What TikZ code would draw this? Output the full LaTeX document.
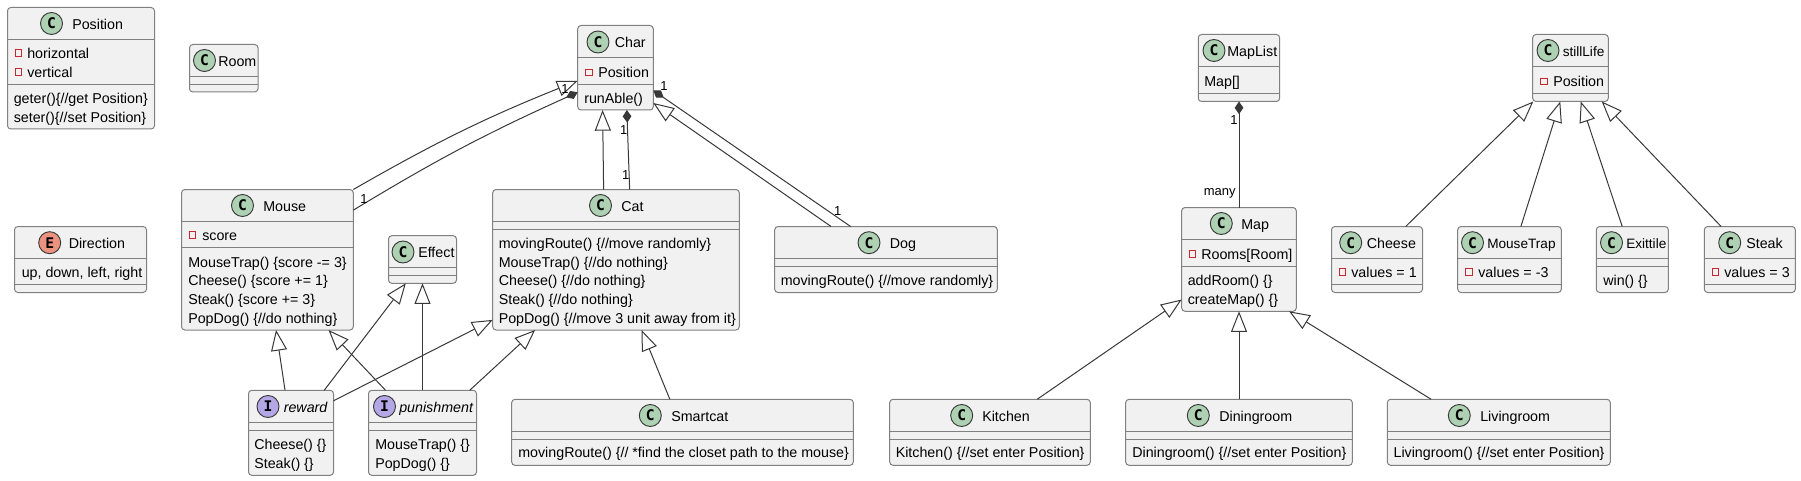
\documentclass[tikz,border=0pt]{standalone}
\usepackage{fontspec}
\setmainfont{Liberation Sans}
\newfontfamily\badgefont{DejaVu Sans Mono}
\usetikzlibrary{arrows.meta}
\definecolor{boxfill}{HTML}{F1F1F1}
\definecolor{boxline}{HTML}{808080}
\definecolor{edgeline}{HTML}{383838}
\definecolor{classbadge}{HTML}{ADD1B2}
\definecolor{enumbadge}{HTML}{EB937F}
\definecolor{ifacebadge}{HTML}{B4A7E5}
\definecolor{privmark}{HTML}{C82930}
\tikzset{
  classbox/.style={draw=boxline,fill=boxfill,line width=0.75pt,rounded corners=2.5pt,inner sep=0pt,outer sep=0pt},
  sepline/.style={draw=boxline,line width=0.75pt},
  badge/.style={circle,draw=edgeline,line width=0.7pt,minimum size=16.5pt,inner sep=0pt,font=\badgefont\bfseries\fontsize{11}{11}\selectfont},
  txt/.style={anchor=west,inner sep=0pt,yshift=-1pt,text height=8pt,text depth=2.2pt,font=\fontsize{10.7}{12}\selectfont},
  tighttxt/.style={txt,font=\fontsize{10.2}{12}\selectfont},
  ital/.style={txt,font=\fontsize{10.7}{12}\selectfont\itshape},
  mult/.style={inner sep=0pt,yshift=-1pt,font=\fontsize{9.75}{11}\selectfont},
  privbox/.style={draw=privmark,line width=0.6pt,minimum size=4.8pt,inner sep=0pt},
  edge/.style={draw=edgeline,line width=0.75pt},
  extends/.style={edge,-{Triangle[open,length=15.5pt,width=12pt,fill=white]}},
  owns/.style={edge,-{Diamond[length=9.5pt,width=6.5pt,fill=edgeline]}}
}
\begin{document}
\begin{tikzpicture}[x=0.75pt,y=-0.75pt]
  \useasboundingbox (0,0) rectangle (1801,481);
  % boxes: name / left / top / right / bottom / first rule / second rule
  \foreach \n/\xa/\ya/\xb/\yb/\sa/\sb in {
      position/7.5/7.5/154.5/129/39.5/84.5,
      room/189.5/44.5/258/92/76.5/84.5,
      mouse/181.5/189.5/353.3/330/221/247.3,
      direction/14.5/226.5/146.5/292.5/258.5/284.5,
      effect/388.5/235.7/456.5/283.3/267.3/275.3,
      reward/248.5/390.3/333.5/475.3/422.3/430.3,
      punishment/368.5/390.3/476.5/475.3/422.3/430.3,
      smartcat/511.7/399.3/853.3/465.3/431.3/439.3,
      char/577.7/25.5/653.3/110/57.5/84.5,
      cat/492.7/189.5/739.3/330/221/229,
      dog/774.7/226.5/997.3/292.5/258.5/266.5,
      maplist/1198.3/34.5/1279.7/101.5/66.3/93.3,
      map/1181.7/207.5/1296.3/311.3/239.5/266,
      kitchen/889.7/399.3/1090.3/465.3/431.3/439.3,
      diningroom/1125.7/399.3/1352.3/465.3/431.3/439.3,
      livingroom/1387.3/399.3/1610.3/465.3/431.3/439.3,
      stilllife/1532.7/34.5/1608.3/101.5/66.3/93.3,
      cheese/1331.5/226.5/1422.5/292.5/258.5/284.5,
      mousetrap/1457.7/226.5/1561.3/292.5/258.5/284.5,
      exittile/1596.3/226.5/1668.3/292.5/258.5/266.5,
      steak/1704.3/226.5/1795.3/292.5/258.5/284.5} {
    \node[classbox,minimum width={(\xb-\xa)*0.75pt},minimum height={(\yb-\ya)*0.75pt}]
      (\n) at ({(\xa+\xb)/2},{(\ya+\yb)/2}) {};
    \draw[sepline] (\xa,\sa) -- (\xb,\sa);
    \draw[sepline] (\xa,\sb) -- (\xb,\sb);
  }
  % round badges
  \foreach \n/\x/\y/\c/\l in {
      position/51.5/23.5/classbadge/C, room/204.5/60.5/classbadge/C,
      mouse/242.5/205.5/classbadge/C, direction/49.7/242.7/enumbadge/E,
      effect/403/252/classbadge/C, reward/268/406.5/ifacebadge/I,
      punishment/384.5/406.5/ifacebadge/I, smartcat/650.3/415.5/classbadge/C,
      char/598/42/classbadge/C, cat/600.5/205.5/classbadge/C,
      dog/869/242.7/classbadge/C, maplist/1214/50.5/classbadge/C,
      map/1221.3/223.5/classbadge/C, kitchen/961.7/415.5/classbadge/C,
      diningroom/1198.3/415.5/classbadge/C, livingroom/1459.3/415.5/classbadge/C,
      stilllife/1548/50.5/classbadge/C, cheese/1350.7/242.7/classbadge/C,
      mousetrap/1472.5/242.7/classbadge/C, exittile/1611.5/242.7/classbadge/C,
      steak/1729.7/242.7/classbadge/C} {
    \node[badge,fill=\c] (\n-badge) at (\x,\y) {\l};
  }
  % private markers
  \foreach \n/\x/\y in {posa/18.5/53, posb/18.5/72, score/192.5/235, charpos/588.7/72.5,
      rooms/1192.5/254, lifepos/1543.7/81.5, cheeseval/1342.5/272,
      trapval/1468.7/272, steakval/1715.5/272} {
    \node[privbox] (\n-mark) at (\x,\y) {};
  }
  % titles
  \node[txt] (position-title) at (72,24) {Position};
  \node[txt] (room-title) at (218,61) {Room};
  \node[txt] (mouse-title) at (263,206) {Mouse};
  \node[txt] (direction-title) at (68.5,243) {Direction};
  \node[txt] (effect-title) at (418,252) {Effect};
  \node[ital] (reward-title) at (283.5,407) {reward};
  \node[ital] (punishment-title) at (399,407) {punishment};
  \node[txt] (smartcat-title) at (671,416) {Smartcat};
  \node[txt] (char-title) at (614.5,42) {Char};
  \node[txt] (cat-title) at (621,206) {Cat};
  \node[txt] (dog-title) at (889.5,243) {Dog};
  \node[txt] (maplist-title) at (1227,51) {MapList};
  \node[txt] (map-title) at (1241,224) {Map};
  \node[txt] (kitchen-title) at (982,416) {Kitchen};
  \node[txt] (diningroom-title) at (1219,416) {Diningroom};
  \node[txt] (livingroom-title) at (1480,416) {Livingroom};
  \node[tighttxt] (stilllife-title) at (1562.5,51) {stillLife};
  \node[txt] (cheese-title) at (1366.5,243) {Cheese};
  \node[tighttxt] (mousetrap-title) at (1487,243) {MouseTrap};
  \node[tighttxt] (exittile-title) at (1626,243) {Exittile};
  \node[txt] (steak-title) at (1746,243) {Steak};
  % members
  \node[txt] (posa) at (27,53) {horizontal};
  \node[txt] (posb) at (27,72) {vertical};
  \node[txt] (posc) at (13.5,98) {geter()\{//get Position\}};
  \node[txt] (posd) at (13.5,117) {seter()\{//set Position\}};
  \node[txt] (score) at (202,235) {score};
  \node[txt] (mousea) at (188,262) {MouseTrap() \{score -= 3\}};
  \node[txt] (mouseb) at (188,280) {Cheese() \{score += 1\}};
  \node[txt] (mousec) at (188,299) {Steak() \{score += 3\}};
  \node[txt] (moused) at (188,318) {PopDog() \{//do nothing\}};
  \node[txt] (dira) at (21.5,272) {up, down, left, right};
  \node[txt] (rewarda) at (254,444) {Cheese() \{\}};
  \node[txt] (rewardb) at (254,463) {Steak() \{\}};
  \node[txt] (puna) at (375,444) {MouseTrap() \{\}};
  \node[txt] (punb) at (375,463) {PopDog() \{\}};
  \node[txt] (smarta) at (518,452.5) {movingRoute() \{// *find the closet path to the mouse\}};
  \node[txt] (charpos) at (598,72) {Position};
  \node[txt] (chara) at (584,98) {runAble()};
  \node[txt] (cata) at (498.5,243.5) {movingRoute() \{//move randomly\}};
  \node[txt] (catb) at (498.5,262) {MouseTrap() \{//do nothing\}};
  \node[txt] (catc) at (498.5,280) {Cheese() \{//do nothing\}};
  \node[txt] (catd) at (498.5,299) {Steak() \{//do nothing\}};
  \node[txt] (cate) at (498.5,318) {PopDog() \{//move 3 unit away from it\}};
  \node[txt] (doga) at (780.5,280) {movingRoute() \{//move randomly\}};
  \node[txt] (maplista) at (1204,81) {Map[]};
  \node[txt] (rooms) at (1201,254) {Rooms[Room]};
  \node[txt] (mapa) at (1187.5,280) {addRoom() \{\}};
  \node[txt] (mapb) at (1187.5,299) {createMap() \{\}};
  \node[txt] (kitchena) at (895.5,452.5) {Kitchen() \{//set enter Position\}};
  \node[txt] (diningrooma) at (1132,452.5) {Diningroom() \{//set enter Position\}};
  \node[txt] (livingrooma) at (1393.3,452.5) {Livingroom() \{//set enter Position\}};
  \node[txt] (lifepos) at (1553,81) {Position};
  \node[txt] (cheeseval) at (1351,272) {values = 1};
  \node[txt] (trapval) at (1478,272) {values = -3};
  \node[txt] (exita) at (1603,280) {win() \{\}};
  \node[txt] (steakval) at (1724,272) {values = 3};
  % generalisation
  \begin{scope}[extends]
    \draw (mouse.north east) to[bend left=4] (char.199.3);
    \draw (cat.100.2) to (char.253.9);
    \draw (dog.149.5) to (char.317.25);
    \draw (reward.98.96) to (mouse.277.66);
    \draw (punishment.131.95) to (mouse.311.8);
    \draw (reward.52.8) to (effect.235.3);
    \draw (punishment.north) to (effect.south);
    \draw (reward.37.1) to (cat.206);
    \draw (punishment.42.2) to (cat.221.75);
    \draw (smartcat.111.2) to (cat.290.8);
    \draw (kitchen.35.7) to (map.215.5);
    \draw (diningroom.north) to (map.south);
    \draw (livingroom.154.4) to (map.314.5);
    \draw (cheese.49.4) to (stilllife.222);
    \draw (mousetrap.71.9) to (stilllife.253);
    \draw (exittile.107.8) to (stilllife.287.4);
    \draw (steak.131.4) to (stilllife.313.5);
  \end{scope}
  % composition
  \begin{scope}[owns]
    \draw (mouse.30) to[bend left=3.5] (char.213.2);
    \draw (cat.79.75) to (char.285.6);
    \draw (dog.137.5) to (char.329.5);
    \draw (map.north) to (maplist.south);
  \end{scope}
  % multiplicities
  \node[mult] (m1) at (364,198) {1};
  \node[mult] (m2) at (565,87.7) {1};
  \node[mult] (m3) at (664,84.3) {1};
  \node[mult] (m4) at (623.7,128.3) {1};
  \node[mult] (m5) at (625.7,173.3) {1};
  \node[mult] (m6) at (837.7,210) {1};
  \node[mult] (m7) at (1234,118.3) {1};
  \node[mult] (m8) at (1219.7,192) {many};
\end{tikzpicture}
\end{document}
